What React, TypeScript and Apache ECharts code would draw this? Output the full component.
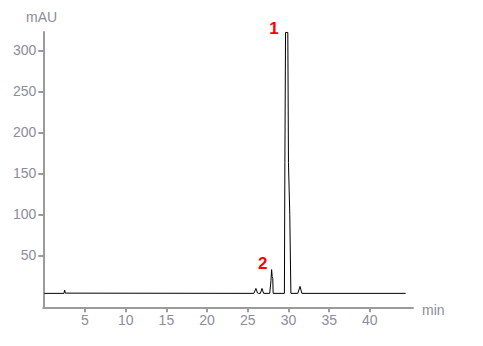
import React, { useEffect, useRef } from "react";
import * as echarts from "echarts";

// Retention time (min) and detector signal (mAU) of the chromatogram trace
const retentionTimes = [
  0, 2.42, 2.5, 2.58, 25.75, 26.0, 26.2, 26.3, 26.55, 26.75, 26.95, 27.7, 27.85, 27.93, 28.0, 28.07,
  28.12, 29.5, 29.56, 29.64, 29.92, 30.0, 30.16, 30.25, 30.3, 31.15, 31.42, 31.65, 44.4,
];
const absorbance = [
  3.5, 3.5, 7.5, 3.8, 3.5, 9.5, 4.0, 3.5, 3.5, 9.5, 3.5, 3.5, 19, 32.5, 24, 22,
  3.5, 3.5, 163, 322, 322, 163, 100, 37, 3.5, 3.5, 12, 3.5, 3.5,
];

// Axis tick positions
const timeTicks = [5, 10, 15, 20, 25, 30, 35, 40];
const signalTicks = [50, 100, 150, 200, 250, 300];

// Numbered peaks: [label, time, signal]
const peakNumbers: [string, number, number][] = [
  ["1", 29.3, 322],
  ["2", 27.9, 35],
];

const FONT = "'Liberation Sans', Arial, sans-serif";
const AXIS_GREY = "#9b9b9b";
const TEXT_GREY = "#8c8c9c";

export default function App() {
  const ref = useRef<HTMLDivElement>(null);

  useEffect(() => {
    if (!ref.current) return;
    const chart = echarts.init(ref.current, null, { renderer: "svg" });
    const trace = retentionTimes.map((t, i) => [t, absorbance[i]]);

    const axisCommon = {
      type: "value" as const,
      splitLine: { show: false },
      axisLine: { show: true, onZero: false, lineStyle: { color: AXIS_GREY, width: 2 } },
      axisTick: { show: true, length: 5, lineStyle: { color: AXIS_GREY, width: 2 } },
    };

    chart.setOption({
      animation: false,
      grid: { left: 43.3, right: 70, top: 32, bottom: 38.7, containLabel: false },
      xAxis: {
        ...axisCommon,
        min: -0.12,
        max: 45.3,
        axisTick: { ...axisCommon.axisTick, customValues: timeTicks },
        axisLabel: {
          customValues: timeTicks,
          color: TEXT_GREY,
          fontFamily: FONT,
          fontSize: 14,
          margin: 6,
        },
      },
      yAxis: {
        ...axisCommon,
        min: -13.5,
        max: 322.5,
        axisTick: { ...axisCommon.axisTick, customValues: signalTicks },
        axisLabel: {
          customValues: signalTicks,
          color: TEXT_GREY,
          fontFamily: FONT,
          fontSize: 14,
          margin: 7,
        },
      },
      series: [
        {
          type: "line",
          data: trace,
          showSymbol: false,
          silent: true,
          lineStyle: { color: "#000", width: 1 },
          markPoint: {
            symbol: "circle",
            symbolSize: 0,
            data: peakNumbers.map(([name, t, v]) => ({
              name,
              coord: [t, v],
              label: {
                show: true,
                formatter: name,
                position: "left",
                distance: 4,
                color: "#ff0000",
                fontFamily: FONT,
                fontWeight: "bold",
                fontSize: 17,
                offset: [0, -4],
              },
            })),
          },
        },
      ],
      graphic: [
        {
          type: "text",
          left: 26,
          top: 10,
          style: { text: "mAU", fill: TEXT_GREY, font: `14px ${FONT}` },
        },
        {
          type: "text",
          left: 422,
          top: 303,
          style: { text: "min", fill: TEXT_GREY, font: `14px ${FONT}` },
        },
      ],
    });
    return () => chart.dispose();
  }, []);

  return (
    <div
      ref={ref}
      style={{ position: "fixed", left: 0, top: 0, width: 483, height: 346, background: "#fff" }}
    />
  );
}
